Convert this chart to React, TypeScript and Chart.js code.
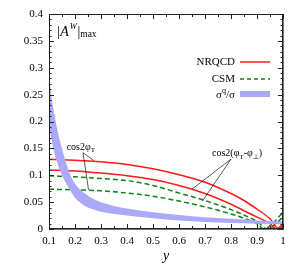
import React, { useEffect, useRef } from "react";
import { Chart, registerables } from "chart.js";
Chart.register(...registerables);

// ---- data ----
const bandX = [0.1, 0.11, 0.12, 0.13, 0.14, 0.15, 0.16, 0.18, 0.2, 0.22, 0.25, 0.28, 0.3, 0.35, 0.4, 0.5, 0.6, 0.7, 0.8, 0.9, 1.0];
const bandUpper = [0.29, 0.245, 0.215, 0.19, 0.168, 0.15, 0.132, 0.103, 0.084, 0.073, 0.062, 0.054, 0.05, 0.043, 0.038, 0.031, 0.026, 0.022, 0.019, 0.016, 0.014];
const bandLower = [0.19, 0.165, 0.143, 0.126, 0.112, 0.1, 0.09, 0.073, 0.058, 0.049, 0.04, 0.035, 0.032, 0.028, 0.025, 0.02, 0.016, 0.013, 0.011, 0.01, 0.009];

const nrqcdCosX = [0.1, 0.2, 0.3, 0.4, 0.5, 0.6, 0.7, 0.8, 0.85, 0.9, 0.95, 0.985, 1.0];
const nrqcdCos = [0.13, 0.128, 0.125, 0.12, 0.112, 0.101, 0.087, 0.066, 0.053, 0.037, 0.019, 0.0, 0.007];
const nrqcdDiffX = [0.1, 0.2, 0.3, 0.4, 0.5, 0.6, 0.7, 0.8, 0.85, 0.9, 0.95, 0.975, 1.0];
const nrqcdDiff = [0.11, 0.108, 0.104, 0.099, 0.092, 0.081, 0.066, 0.046, 0.034, 0.022, 0.01, 0.0, 0.01];

const csmDiffX = [0.1, 0.2, 0.3, 0.4, 0.5, 0.6, 0.7, 0.8, 0.85, 0.9, 0.94, 1.0];
const csmDiff = [0.099, 0.097, 0.094, 0.09, 0.081, 0.067, 0.053, 0.036, 0.026, 0.014, 0.0, 0.022];
const csmCosX = [0.1, 0.2, 0.3, 0.4, 0.5, 0.6, 0.7, 0.8, 0.85, 0.9, 0.925, 1.0];
const csmCos = [0.074, 0.073, 0.071, 0.067, 0.061, 0.052, 0.041, 0.028, 0.02, 0.01, 0.0, 0.03];

const xMin = 0.1, xMax = 1.0, xStep = 0.1;
const yMin = 0, yMax = 0.4, yStep = 0.05;

const SERIF = "'Liberation Serif', 'Times New Roman', serif";
const RED = "#ff1a1a";
const GREEN = "#11801a";
const BAND = "rgb(170,170,248)";

const pts = (xs: number[], ys: number[]) => xs.map((x, i) => ({ x, y: ys[i] }));
const fmt = (v: number) => String(Math.round(v * 100) / 100);

const ChartView = () => {
  const ref = useRef<HTMLCanvasElement>(null);
  useEffect(() => {
    if (!ref.current) return;
    const decor = {
      id: "decor",
      afterDraw(chart: any) {
        const { ctx, chartArea: a, scales } = chart;
        const px = (v: number) => scales.x.getPixelForValue(v);
        const py = (v: number) => scales.y.getPixelForValue(v);
        ctx.save();
        // frame
        ctx.strokeStyle = "#222";
        ctx.lineWidth = 1;
        ctx.strokeRect(Math.round(a.left) + 0.5, Math.round(a.top) + 0.5, Math.round(a.right - a.left) - 1, Math.round(a.bottom - a.top) - 1);
        ctx.strokeStyle = "#777";
        ctx.lineWidth = 1;
        ctx.beginPath();
        ctx.moveTo(Math.round(a.right) + 0.5, a.top); ctx.lineTo(Math.round(a.right) + 0.5, a.bottom + 1);
        ctx.moveTo(a.left, Math.round(a.bottom) + 0.5); ctx.lineTo(a.right + 1, Math.round(a.bottom) + 0.5);
        ctx.stroke();
        // ticks inward
        ctx.strokeStyle = "#222";
        ctx.beginPath();
        for (let k = 2; k <= 20; k++) {
          const v = k * 0.05;
          const len = k % 2 === 0 ? 5 : 3;
          const x = Math.round(px(v)) + 0.5;
          ctx.moveTo(x, a.bottom); ctx.lineTo(x, a.bottom - len);
          ctx.moveTo(x, a.top); ctx.lineTo(x, a.top + len);
        }
        for (let k = 0; k <= 40; k++) {
          const v = k * 0.01;
          const len = k % 5 === 0 ? 5 : 2.5;
          const y = Math.round(py(v)) + 0.5;
          ctx.moveTo(a.left, y); ctx.lineTo(a.left + len, y);
          ctx.moveTo(a.right, y); ctx.lineTo(a.right - len, y);
        }
        ctx.stroke();

        ctx.fillStyle = "#000";
        ctx.textBaseline = "alphabetic";
        // |A^W|max
        let cx = a.left + 8;
        const by = a.top + 22;
        ctx.font = `14px ${SERIF}`;
        ctx.fillText("|", cx, by); cx += ctx.measureText("|").width + 0.5;
        ctx.font = `italic 14px ${SERIF}`;
        ctx.fillText("A", cx, by); cx += ctx.measureText("A").width + 1;
        ctx.font = `italic 8.5px ${SERIF}`;
        ctx.fillText("W", cx, by - 7); cx += ctx.measureText("W").width + 0.5;
        ctx.font = `14px ${SERIF}`;
        ctx.fillText("|", cx, by); cx += ctx.measureText("|").width;
        ctx.font = `9.5px ${SERIF}`;
        ctx.fillText("max", cx, by + 1);

        // legend
        const lx = a.right - 48;
        const l1 = a.right - 43, l2 = a.right - 13;
        const rows = [a.top + 48, a.top + 65, a.top + 80];
        ctx.font = `11px ${SERIF}`;
        ctx.textAlign = "right";
        ctx.textBaseline = "middle";
        ctx.fillText("NRQCD", lx, rows[0]);
        ctx.fillText("CSM", lx, rows[1]);
        // sigma^q / sigma
        const w1 = ctx.measureText("/σ").width;
        ctx.fillText("/σ", lx, rows[2] + 1);
        ctx.font = `8px ${SERIF}`;
        const wq = ctx.measureText("q").width;
        ctx.fillText("q", lx - w1, rows[2] - 3);
        ctx.font = `11px ${SERIF}`;
        ctx.fillText("σ", lx - w1 - wq, rows[2] + 1);
        ctx.textAlign = "left";
        ctx.lineWidth = 1.5;
        ctx.strokeStyle = RED;
        ctx.beginPath(); ctx.moveTo(l1, rows[0]); ctx.lineTo(l2, rows[0]); ctx.stroke();
        ctx.strokeStyle = GREEN;
        ctx.setLineDash([4, 3]);
        ctx.beginPath(); ctx.moveTo(l1, rows[1]); ctx.lineTo(l2, rows[1]); ctx.stroke();
        ctx.setLineDash([]);
        ctx.fillStyle = BAND;
        ctx.fillRect(l1, rows[2] - 3, l2 - l1, 6);

        // annotations with pointers
        ctx.fillStyle = "#000";
        ctx.strokeStyle = "#111";
        ctx.lineWidth = 0.7;
        ctx.textBaseline = "alphabetic";
        // cos2phi_T
        let tx = px(0.168), ty = py(0.147);
        ctx.font = `10px ${SERIF}`;
        ctx.fillText("cos2φ", tx, ty);
        let tw = ctx.measureText("cos2φ").width;
        ctx.font = `7px ${SERIF}`;
        ctx.fillText("T", tx + tw, ty + 2.5);
        ctx.beginPath();
        ctx.moveTo(px(0.231), py(0.142)); ctx.lineTo(px(0.273), py(0.127));
        ctx.moveTo(px(0.231), py(0.142)); ctx.lineTo(px(0.252), py(0.073));
        ctx.stroke();
        // cos2(phi_T - phi_perp)
        tx = px(0.727); ty = py(0.135);
        ctx.font = `10px ${SERIF}`;
        ctx.fillText("cos2(φ", tx, ty);
        tw = ctx.measureText("cos2(φ").width;
        ctx.font = `7px ${SERIF}`;
        ctx.fillText("T", tx + tw, ty + 2.5);
        tw += ctx.measureText("T").width;
        ctx.font = `10px ${SERIF}`;
        ctx.fillText("-φ", tx + tw, ty);
        tw += ctx.measureText("-φ").width;
        ctx.font = `7px ${SERIF}`;
        ctx.fillText("⊥", tx + tw, ty + 2.5);
        tw += ctx.measureText("⊥").width;
        ctx.font = `10px ${SERIF}`;
        ctx.fillText(")", tx + tw, ty);
        ctx.beginPath();
        ctx.moveTo(px(0.8), py(0.13)); ctx.lineTo(px(0.65), py(0.074));
        ctx.moveTo(px(0.8), py(0.13)); ctx.lineTo(px(0.69), py(0.052));
        ctx.stroke();
        ctx.restore();
      },
    };

    const lineOpts = { pointRadius: 0, borderWidth: 1.5, cubicInterpolationMode: "monotone" as const, fill: false };
    const chart = new Chart(ref.current, {
      type: "line",
      data: {
        datasets: [
          { label: "band lower", data: pts(bandX, bandLower), pointRadius: 0, borderWidth: 0, borderColor: BAND, cubicInterpolationMode: "monotone", fill: false },
          { label: "σq/σ", data: pts(bandX, bandUpper), pointRadius: 0, borderWidth: 0, borderColor: BAND, backgroundColor: BAND, cubicInterpolationMode: "monotone", fill: "-1" },
          { label: "NRQCD cos2φT", data: pts(nrqcdCosX, nrqcdCos), borderColor: RED, ...lineOpts },
          { label: "NRQCD cos2(φT-φ⊥)", data: pts(nrqcdDiffX, nrqcdDiff), borderColor: RED, ...lineOpts },
          { label: "CSM cos2(φT-φ⊥)", data: pts(csmDiffX, csmDiff), borderColor: GREEN, borderDash: [5, 3], ...lineOpts },
          { label: "CSM cos2φT", data: pts(csmCosX, csmCos), borderColor: GREEN, borderDash: [5, 3], ...lineOpts },
        ] as any,
      },
      options: {
        animation: false,
        responsive: true,
        maintainAspectRatio: false,
        layout: { padding: { left: 0, top: 14, right: 19, bottom: 0 } },
        plugins: { legend: { display: false }, tooltip: { enabled: false } },
        scales: {
          x: {
            type: "linear",
            min: xMin,
            max: xMax,
            grid: { display: false, drawTicks: false },
            border: { display: false },
            ticks: { stepSize: xStep, padding: 6, autoSkip: false, maxRotation: 0, color: "#000", font: { family: SERIF, size: 11 }, callback: (v: any) => fmt(Number(v)) },
            title: { display: true, text: "y", color: "#000", font: { family: SERIF, size: 14, style: "italic" }, padding: { top: 0, bottom: 0 } },
            afterFit: (s: any) => { s.height = 36; },
          },
          y: {
            min: yMin,
            max: yMax,
            grid: { display: false, drawTicks: false },
            border: { display: false },
            ticks: { stepSize: yStep, padding: 6, autoSkip: false, color: "#000", font: { family: SERIF, size: 11 }, callback: (v: any) => fmt(Number(v)) },
            afterFit: (s: any) => { s.width = 49; },
          },
        },
      },
      plugins: [decor],
    });
    return () => chart.destroy();
  }, []);
  return (
    <div style={{ position: "fixed", left: 0, top: 0, width: 302, height: 265, background: "#fff" }}>
      <canvas ref={ref} />
    </div>
  );
};

export default function App() {
  return <ChartView />;
}
